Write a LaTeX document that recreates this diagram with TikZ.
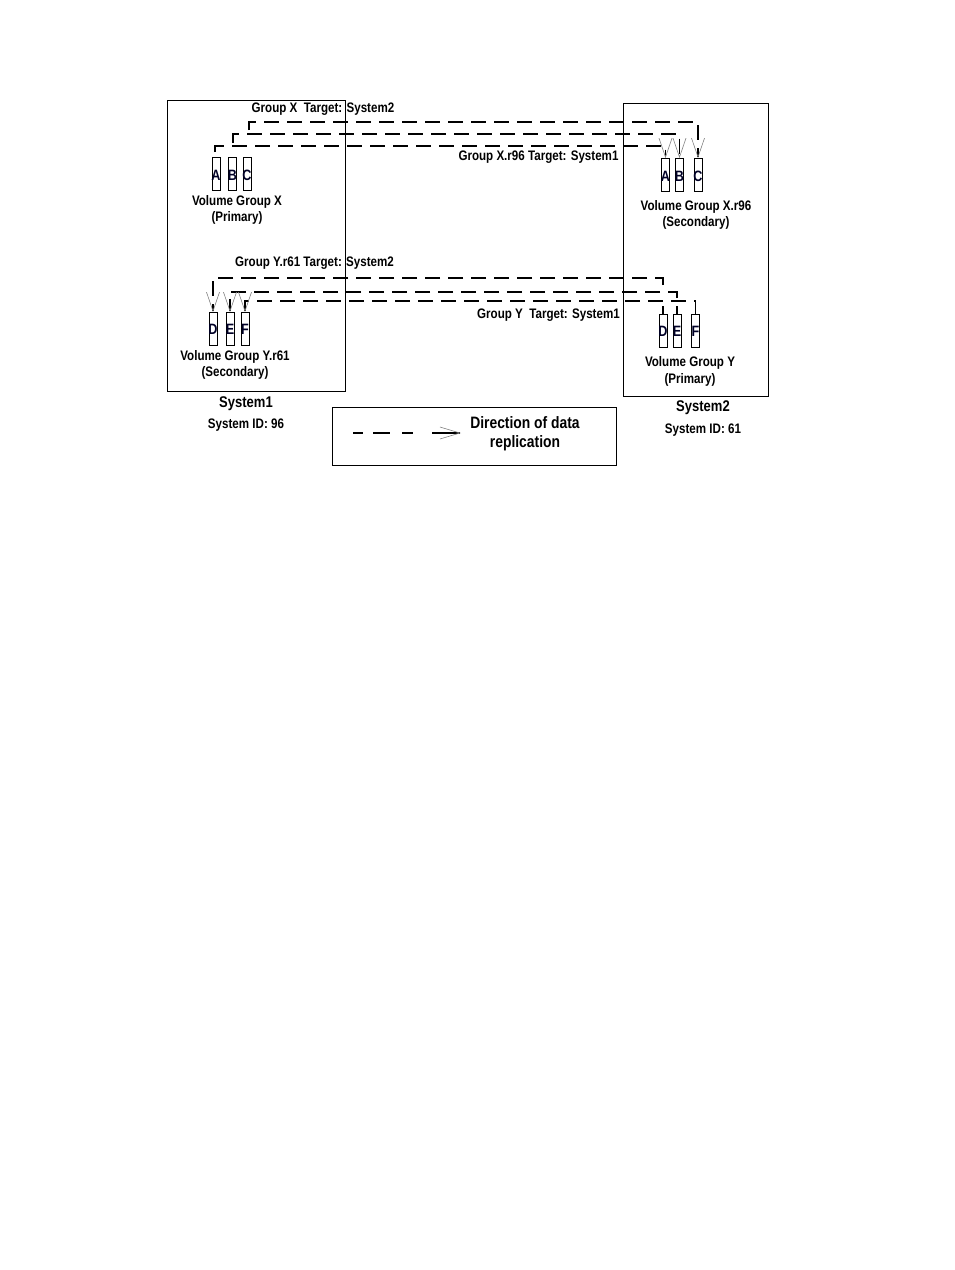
\documentclass[tikz,border=0pt]{standalone}
\usepackage{fontspec}
\setmainfont{Liberation Sans}[FakeStretch=0.84]
\usetikzlibrary{arrows.meta}
\begin{document}
\begin{tikzpicture}[x=1pt,y=-1pt,
  sysbox/.style={draw,line width=1.1pt,inner sep=0pt,anchor=north west},
  vol/.style={draw,line width=0.9pt,minimum width=8pt,minimum height=33pt,inner sep=0pt},
  letter/.style={font=\bfseries\fontsize{15}{15}\selectfont,inner sep=0pt,text=black!85!blue},
  lbl/.style={font=\bfseries\fontsize{13.8}{16.5}\selectfont,inner sep=0pt,align=center},
  sysl/.style={font=\bfseries\fontsize{15.5}{16}\selectfont,inner sep=0pt},
  legl/.style={font=\bfseries\fontsize{16.5}{19}\selectfont,inner sep=0pt,align=center},
  rep/.style={line width=1.1pt,dash pattern=on 15pt off 8pt},
  tip/.style={-{Straight Barb[length=19pt,width=13pt,line width=0.6pt,color=gray]}},
]
\useasboundingbox (0,0) rectangle (954,1270);

% system boxes
\node[sysbox,minimum width=178pt,minimum height=291pt] (sys1) at (167,100) {};
\node[sysbox,minimum width=145pt,minimum height=293pt] (sys2) at (623,103) {};
\node[sysbox,minimum width=284pt,minimum height=58pt] (leg) at (332,407) {};

% volumes group X
\node[vol] (x1a) at (216,174) {};
\node[vol] (x1b) at (232.5,174) {};
\node[vol] (x1c) at (247,174) {};
\node[vol] (x2a) at (665.5,175) {};
\node[vol] (x2b) at (679.5,175) {};
\node[vol] (x2c) at (698,175) {};
\node[letter] (x1al) at (216,175) {A};
\node[letter] (x1bl) at (232.5,175) {B};
\node[letter] (x1cl) at (247,175) {C};
\node[letter] (x2al) at (665.5,176) {A};
\node[letter] (x2bl) at (679.5,176) {B};
\node[letter] (x2cl) at (698,176) {C};

% volumes group Y
\node[vol] (y1d) at (213,329) {};
\node[vol] (y1e) at (230,329) {};
\node[vol] (y1f) at (245,329) {};
\node[vol] (y2d) at (663,331) {};
\node[vol] (y2e) at (677,331) {};
\node[vol] (y2f) at (695.5,331) {};
\node[letter] (y1dl) at (213,329) {D};
\node[letter] (y1el) at (230,329) {E};
\node[letter] (y1fl) at (245,329) {F};
\node[letter] (y2dl) at (663,331) {D};
\node[letter] (y2el) at (677,331) {E};
\node[letter] (y2fl) at (695.5,331) {F};

% replication X: System1 -> System2
\coordinate (xs1) at (249,130);
\coordinate (xs2) at (233,143);
\coordinate (xs3) at (215,152);
\draw[rep,tip] (xs1) |- (x2c.north |- 0,122) -- (x2c.north);
\draw[rep,tip] (xs2) |- (x2b.north |- 0,134) -- (x2b.north);
\draw[rep,tip] (xs3) |- (x2a.north |- 0,146) -- (x2a.north);

% replication Y: System2 -> System1
\coordinate (ys1) at (663,285);
\coordinate (ys2) at (677,298);
\draw[rep,tip] (ys1) |- (y1d.north |- 0,278) -- (y1d.north);
\draw[rep,tip] (ys2) |- (y1e.north |- 0,292) -- (y1e.north);
\draw[rep,tip] (y2f.north) |- (y1f.north |- 0,301) -- (y1f.north);
\draw[line width=1.1pt] (y2d.north) -- ++(0,-8);
\draw[line width=1.1pt] (y2e.north) -- ++(0,-8);

% labels
\node[lbl] (gx) at (323,109) {Group X\ \ Target: System2};
\node[lbl] (gxr) at (538.5,157) {Group X.r96 Target: System1};
\node[lbl] (vgx) at (237,210) {Volume Group X\\(Primary)};
\node[lbl] (vgxr) at (696,215) {Volume Group X.r96\\(Secondary)};
\node[lbl] (gyr) at (314.5,263) {Group Y.r61 Target: System2};
\node[lbl] (gy) at (548.5,315) {Group Y\ \ Target: System1};
\node[lbl] (vgyr) at (235,365) {Volume Group Y.r61\\(Secondary)};
\node[lbl] (vgy) at (690,371.5) {Volume Group Y\\(Primary)};

\node[sysl] (s1n) at (246,404) {System1};
\node[lbl] (s1id) at (246,425) {System ID: 96};
\node[sysl] (s2n) at (703,408) {System2};
\node[lbl] (s2id) at (703,430) {System ID: 61};

% legend
\coordinate (la) at (353,433);
\coordinate (lb) at (461,433);
\draw[line width=1.1pt,dash pattern=on 10pt off 10pt on 17pt off 12pt on 11pt off 19pt on 60pt off 0pt,
  -{Straight Barb[length=20pt,width=12pt,line width=0.6pt,color=gray]}] (la) -- (lb);
\node[legl] (legt) at (525,433.5) {Direction of data\\replication};
\end{tikzpicture}
\end{document}
